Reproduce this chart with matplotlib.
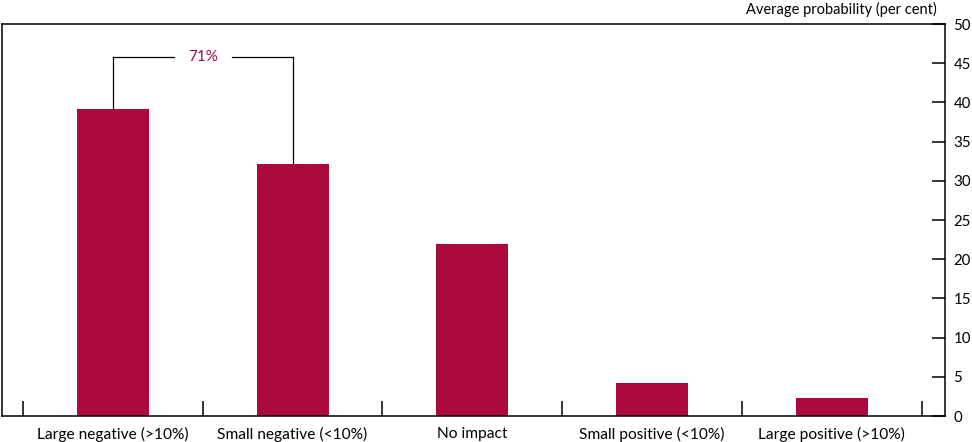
import matplotlib
matplotlib.use('Agg')
import matplotlib.pyplot as plt
import numpy as np

plt.rcParams['font.family'] = ['Lato', 'DejaVu Sans']

# --- Data ---
categories = ['Large negative (>10%)', 'Small negative (<10%)', 'No impact',
              'Small positive (<10%)', 'Large positive (>10%)']
probabilities = [39.2, 32.1, 21.9, 4.2, 2.3]
bracket_label = '71%'
bracket_level = 45.8

BAR_COLOUR = '#AA0A3C'

fig = plt.figure(figsize=(9.72, 4.42), dpi=100)
W, H = 972, 442
ax = fig.add_axes([2 / W, (H - 416) / H, (945 - 2) / W, (416 - 24) / H])

x = np.arange(len(categories))
ax.bar(x, probabilities, width=0.4, color=BAR_COLOUR, zorder=2)

ax.set_xlim(-0.617, 4.63)
ax.set_ylim(0, 50)

# y axis on the right, ticks pointing inward
ax.yaxis.tick_right()
ax.set_yticks(np.arange(0, 51, 5))
ax.tick_params(axis='y', direction='in', length=9.5, width=1.1, labelsize=10.8,
               pad=6, colors='black')
ax.tick_params(axis='y', which='both', left=False)

# category boundaries as inward ticks, labels at centres
ax.set_xticks(np.arange(-0.5, len(categories), 1.0))
ax.set_xticklabels([])
ax.tick_params(axis='x', direction='in', length=11, width=1.1)
ax.set_xticks(x, minor=True)
ax.set_xticklabels(categories, minor=True)
ax.tick_params(axis='x', which='minor', length=0, labelsize=11.2, pad=8)

for s in ax.spines.values():
    s.set_linewidth(1.1)

# bracket joining the two negative bars
y_top = bracket_level
ax.plot([x[0], x[0]], [probabilities[0], y_top], color='black', lw=0.9, zorder=3)
ax.plot([x[1], x[1]], [probabilities[1], y_top], color='black', lw=0.9, zorder=3)
mid = (x[0] + x[1]) / 2
gap = 0.16
ax.plot([x[0], mid - gap], [y_top, y_top], color='black', lw=0.9)
ax.plot([mid + gap, x[1]], [y_top, y_top], color='black', lw=0.9)
ax.text(mid, y_top, bracket_label, color=BAR_COLOUR, fontsize=11,
        ha='center', va='center')

fig.text(937 / W, (H - 9) / H, 'Average probability (per cent)', ha='right',
         va='center', fontsize=10.5)

fig.savefig('out.png', dpi=100)
